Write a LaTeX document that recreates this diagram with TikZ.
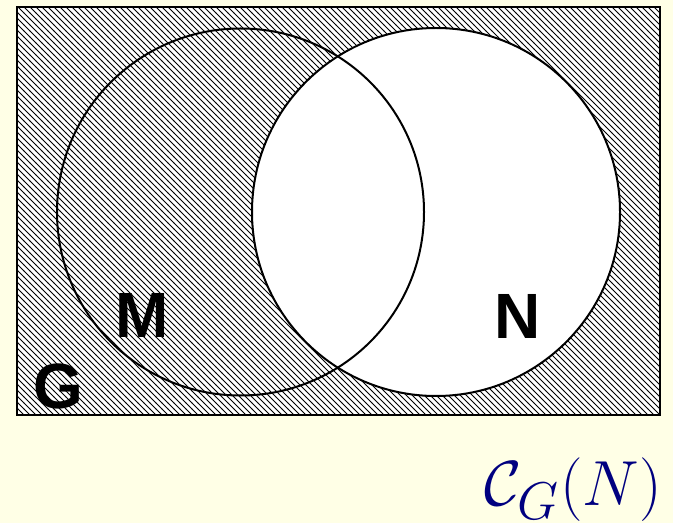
\documentclass[tikz,border=0pt]{standalone}
\usepackage{fontspec}
\setsansfont{Liberation Sans}
\usetikzlibrary{patterns}
\definecolor{paper}{HTML}{FFFFE6}
\definecolor{capblue}{HTML}{000080}

\begin{document}
\begin{tikzpicture}[x=0.5pt,y=-0.5pt,
setlabel/.style={inner sep=0pt,font=\sffamily\bfseries\fontsize{32}{32}\selectfont},
rim/.style={draw,line width=1pt}]
\fill[paper](0,0) rectangle (673,523);
\useasboundingbox(0,0) rectangle (673,523);
\coordinate(gtl) at (17,7);\coordinate(gbr) at (660,415);
\coordinate(m) at (240.5,212);\coordinate(n) at (436,212);
% hatched complement of N
\fill[white](gtl) rectangle (gbr);
\fill[pattern=north west lines](gtl) rectangle (gbr);
\fill[white](n) circle[radius=184];
\draw[rim](m) circle[radius=183.5];
\draw[rim](n) circle[radius=184];
\draw[rim,line width=1.2pt](gtl) rectangle (gbr);
\node[setlabel](lm) at (142.5,315){M};
\node[setlabel](ln) at (518,316){N};
\node[setlabel](lg) at (58.5,386){G};
\node[text=capblue,inner sep=0pt,anchor=base,scale=1.28,font=\fontsize{30}{30}\selectfont](cap) at (573,505){$\mathcal{C}_G(N)$};
\end{tikzpicture}
\end{document}
